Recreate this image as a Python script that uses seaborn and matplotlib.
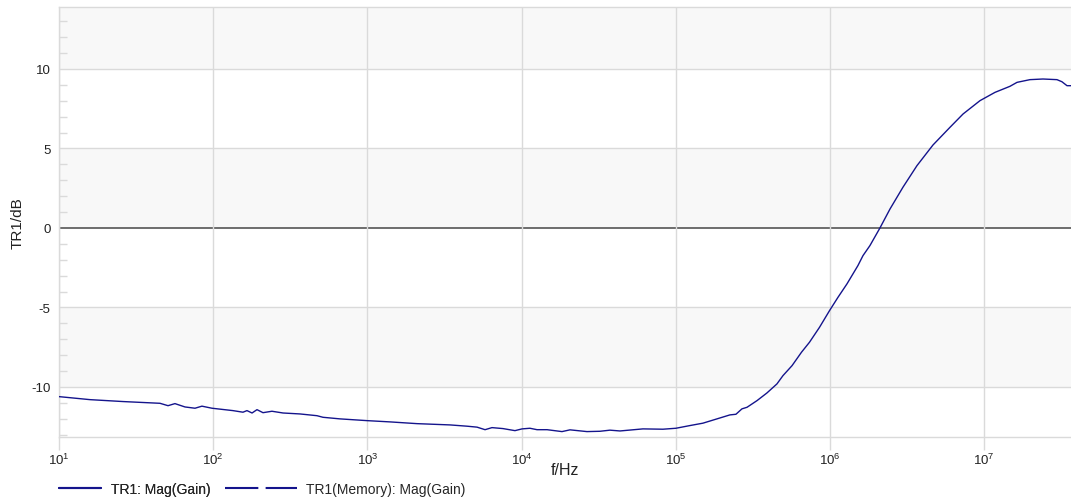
import numpy as np
import pandas as pd
import matplotlib
matplotlib.use("Agg")
import matplotlib.pyplot as plt
from matplotlib.lines import Line2D
from matplotlib.ticker import LogFormatterSciNotation, MultipleLocator, NullLocator
import seaborn as sns

# Sweep frequencies (log10 of Hz) and measured gain of trace TR1 in dB
log_freq = [
    1.000, 1.201, 1.415, 1.655, 1.707, 1.752, 1.817, 1.882, 1.927, 1.992,
    2.128, 2.193, 2.219, 2.252, 2.284, 2.323, 2.381, 2.453, 2.563, 2.673,
    2.712, 2.822, 2.997, 3.147, 3.322, 3.536, 3.646, 3.711, 3.763, 3.808,
    3.879, 3.957, 4.003, 4.054, 4.100, 4.165, 4.262, 4.314, 4.424, 4.508,
    4.573, 4.638, 4.787, 4.917, 5.001, 5.092, 5.176, 5.267, 5.351, 5.390,
    5.429, 5.462, 5.527, 5.591, 5.656, 5.695, 5.754, 5.815, 5.867, 5.932,
    5.997, 6.052, 6.110, 6.181, 6.214, 6.259, 6.324, 6.389, 6.473, 6.564,
    6.668, 6.778, 6.863, 6.973, 7.070, 7.167, 7.213, 7.297, 7.381, 7.472,
    7.504, 7.537, 7.563,
]
gain_db = [
    -10.61, -10.80, -10.92, -11.03, -11.18, -11.05, -11.26, -11.34, -11.21, -11.34,
    -11.49, -11.59, -11.49, -11.64, -11.43, -11.62, -11.53, -11.64, -11.70, -11.81,
    -11.91, -12.01, -12.12, -12.20, -12.31, -12.39, -12.47, -12.53, -12.69, -12.56,
    -12.62, -12.75, -12.64, -12.60, -12.69, -12.69, -12.81, -12.70, -12.81, -12.79,
    -12.72, -12.77, -12.64, -12.66, -12.60, -12.43, -12.28, -12.01, -11.76, -11.72,
    -11.38, -11.28, -10.86, -10.38, -9.81, -9.29, -8.66, -7.82, -7.19, -6.25,
    -5.20, -4.36, -3.52, -2.37, -1.74, -1.11, 0.00, 1.19, 2.56, 3.92,
    5.22, 6.33, 7.17, 8.01, 8.53, 8.91, 9.16, 9.33, 9.37, 9.33,
    9.20, 8.95, 8.95,
]

legend_labels = ["TR1: Mag(Gain)", "TR1(Memory): Mag(Gain)"]
y_major = [-10, -5, 0, 5, 10]
x_decades = [1e1, 1e2, 1e3, 1e4, 1e5, 1e6, 1e7]

df = pd.DataFrame({"f": np.power(10.0, log_freq), "gain": gain_db})

sns.set_theme(style="white")
plt.rcParams["font.family"] = ["Liberation Sans", "DejaVu Sans"]
plt.rcParams["axes.unicode_minus"] = False
plt.rcParams["mathtext.fontset"] = "custom"
plt.rcParams["mathtext.rm"] = "Liberation Sans"
plt.rcParams["mathtext.it"] = "Liberation Sans:italic"
plt.rcParams["mathtext.bf"] = "Liberation Sans:bold"

trace_color = "#14148c"
grid_color = "#dadada"
band_color = "#f8f8f8"
text_color = "#222222"

fig = plt.figure(figsize=(10.71, 5.02), dpi=100)
ax = fig.add_axes([59 / 1071, 64 / 502, 1 - 59 / 1071, (438 - 8) / 502])

ax.set_xscale("log")
x_lo, x_hi = 10.0, 10 ** 7.563
y_lo, y_hi = -13.15, 13.9
ax.set_xlim(x_lo, x_hi)
ax.set_ylim(y_lo, y_hi)

# alternating shaded bands between the 5 dB grid lines
for lo, hi in [(-10, -5), (0, 5), (10, y_hi)]:
    ax.axhspan(lo, hi, color=band_color, zorder=0, lw=0)

for v in y_major:
    if v == 0:
        ax.axhline(0, color="#555555", lw=1.2, zorder=1)
    else:
        ax.axhline(v, color=grid_color, lw=1.0, zorder=1)

ax.set_xticks(x_decades)
ax.xaxis.set_minor_locator(NullLocator())
ax.xaxis.set_major_formatter(LogFormatterSciNotation(base=10))
for dec in x_decades:
    ax.axvline(dec, color=grid_color, lw=1.0, zorder=1)

sns.lineplot(data=df, x="f", y="gain", ax=ax, color=trace_color, lw=1.0,
             zorder=3, legend=False)

ax.set_yticks(y_major)
ax.yaxis.set_minor_locator(MultipleLocator(1))
ax.tick_params(axis="y", which="major", length=3, width=1, color=grid_color,
               labelsize=9.5, labelcolor=text_color, pad=3, direction="out")
ax.tick_params(axis="y", which="minor", length=6, width=1, color=grid_color,
               direction="in", left=True)
ax.tick_params(axis="x", which="major", length=9, width=1, color=grid_color,
               labelsize=9.5, labelcolor=text_color, pad=2, direction="out",
               bottom=True)

ax.set_xlabel("f/Hz", fontsize=11.5, color=text_color)
ax.set_ylabel("TR1/dB", fontsize=11, color=text_color)
ax.xaxis.set_label_coords(0.5, -0.058)
ax.yaxis.set_label_coords(-0.034, 0.5)

for side in ["top", "left", "bottom"]:
    ax.spines[side].set_visible(True)
    ax.spines[side].set_color(grid_color)
    ax.spines[side].set_linewidth(1.0)
ax.spines["right"].set_visible(False)

# legend row beneath the axis
h1 = [Line2D([], [], color=trace_color, lw=1.5, ls="-")]
h2 = [Line2D([], [], color=trace_color, lw=1.5, ls=(0, (16, 3.5)))]
leg1 = fig.legend(h1, legend_labels[:1], loc="center left",
                  bbox_to_anchor=(46.5 / 1071, 12 / 502), frameon=False,
                  fontsize=10, handlelength=3.0, handletextpad=0.72)
fig.legend(h2, legend_labels[1:], loc="center left",
           bbox_to_anchor=(212.5 / 1071, 12 / 502), frameon=False,
           fontsize=10, handlelength=5.2, handletextpad=0.65)
fig.add_artist(leg1)

fig.savefig("out.png", dpi=100)
